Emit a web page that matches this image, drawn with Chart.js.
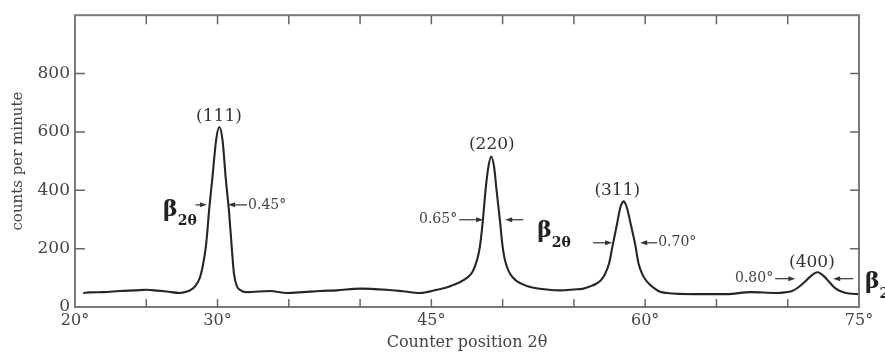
<!DOCTYPE html>
<html>
<head>
<meta charset="utf-8">
<script src="https://cdn.jsdelivr.net/npm/chart.js@4.4.1/dist/chart.umd.min.js"></script>
<style>
  html, body { margin: 0; padding: 0; background: #fff; }
  #wrap { width: 885px; height: 355px; position: relative; }
</style>
</head>
<body>
<div id="wrap"><canvas id="xrd"></canvas></div>
<script>
// Counter position 2θ (deg) and counts per minute
const twoTheta = [
  20.58, 21.0, 21.99, 23.16, 24.2, 25.03, 25.8, 26.43, 27.37, 27.8, 28.1, 28.45, 28.77, 29.0,
  29.2, 29.43, 29.63, 29.9, 30.12, 30.35, 30.58, 30.8, 30.98, 31.15, 31.35, 31.6, 32.05,
  33.68, 34.85, 36.02, 37.19, 38.36, 40.0, 41.87, 43.0, 44.2, 45.38, 46.0, 46.5, 47.0,
  47.5, 47.9, 48.2, 48.4, 48.6, 48.8, 49.0, 49.19, 49.4, 49.59, 49.82, 49.98, 50.12, 50.3,
  50.53, 50.9, 51.3, 51.8, 52.16, 53.1, 54.04, 55.0, 55.67, 56.1, 56.5, 56.9, 57.2, 57.47,
  57.73, 58.01, 58.25, 58.38, 58.48, 58.6, 58.72, 59.0, 59.3, 59.53, 59.75, 60.0, 60.3,
  60.7, 61.05, 61.5, 63.39, 65.73, 67.37, 69.24, 69.8, 70.3, 70.7, 71.1, 71.6, 72.09,
  72.55, 72.98, 73.35, 73.8, 74.3, 75.0
];
const counts = [
  48, 50, 51, 55, 57, 59, 56, 53, 48, 52, 58, 72, 102, 150,
  215, 343, 438, 572, 617, 572, 438, 330, 215, 115, 72, 58, 51,
  55, 48, 51, 55, 57, 63, 59, 54, 48, 59, 66, 75, 85,
  100, 122, 160, 205, 290, 400, 480, 516, 480, 393, 292, 215, 170, 138,
  113, 92, 80, 70, 66, 60, 57, 60, 63, 70, 78, 92, 115, 150,
  214, 281, 340, 356, 362, 356, 340, 281, 214, 150, 118, 95, 78,
  62, 52, 48, 44, 44, 51, 48, 50, 55, 66, 82, 105, 119,
  105, 82, 64, 52, 46, 44
];

// ticks every 5° / 200 counts, only some of them carry a label
const xLabelled = [20, 30, 45, 60, 75];
const yLabelled = [0, 200, 400, 600, 800];

// reflection names and where they sit (2θ, counts)
const peakNames = ['(111)', '(220)', '(311)', '(400)'];
const peakNameAt = [[30.1, 652], [49.24, 558], [58.04, 400], [71.7, 152]];

// half-width marks: text, arrow from the left [tail, tip], arrow from the right [tail, tip]
const widthTexts = ['0.45°', '0.65°', '0.70°', '0.80°'];
const widthMarks = [
  { textAt: 32.14, side: 'right', fromLeft: [28.45, 29.25], fromRight: [32.07, 30.74], y: 350 },
  { textAt: 46.81, side: 'left',  fromLeft: [46.95, 48.63], fromRight: [51.44, 50.18], y: 299 },
  { textAt: 60.91, side: 'right', fromLeft: [56.35, 57.68], fromRight: [60.84, 59.65], y: 220 },
  { textAt: 68.98, side: 'left',  fromLeft: [69.12, 70.53], fromRight: [74.6, 73.19],  y: 97 }
];
const betaAt = [[26.18, 333], [52.42, 259], [75.42, 84]];

const SERIF = '"DejaVu Serif", "Liberation Serif", serif';

function drawArrow(ctx, tail, tip, y) {
  const dir = Math.sign(tip - tail);
  ctx.beginPath();
  ctx.moveTo(tail, y);
  ctx.lineTo(tip - dir * 5, y);
  ctx.stroke();
  ctx.beginPath();
  ctx.moveTo(tip, y);
  ctx.lineTo(tip - dir * 7, y - 2.5);
  ctx.lineTo(tip - dir * 7, y + 2.5);
  ctx.closePath();
  ctx.fill();
}

const framePlugin = {
  id: 'frame',
  afterDatasetsDraw(chart) {
    const { ctx, chartArea: a, scales: { x, y } } = chart;
    ctx.save();
    // box round the plot
    ctx.strokeStyle = '#7a7a7a';
    ctx.lineWidth = 2;
    ctx.strokeRect(a.left, a.top, a.right - a.left, a.bottom - a.top);

    // inward tick marks on all four sides
    ctx.lineWidth = 1.5;
    ctx.strokeStyle = '#666';
    for (let v = 25; v < 75; v += 5) {
      const px = x.getPixelForValue(v);
      ctx.beginPath();
      ctx.moveTo(px, a.bottom); ctx.lineTo(px, a.bottom - 8);
      ctx.moveTo(px, a.top); ctx.lineTo(px, a.top + 9);
      ctx.stroke();
    }
    for (let v = 200; v < 1000; v += 200) {
      const py = y.getPixelForValue(v);
      ctx.beginPath();
      ctx.moveTo(a.left, py); ctx.lineTo(a.left + 10, py);
      ctx.moveTo(a.right, py); ctx.lineTo(a.right - 9, py);
      ctx.stroke();
    }

    // reflection names
    ctx.fillStyle = '#333';
    ctx.font = '17px ' + SERIF;
    ctx.textAlign = 'center';
    ctx.textBaseline = 'middle';
    peakNames.forEach((name, i) => {
      ctx.fillText(name, x.getPixelForValue(peakNameAt[i][0]), y.getPixelForValue(peakNameAt[i][1]));
    });

    // widths with arrows
    ctx.font = '14px ' + SERIF;
    ctx.fillStyle = '#444';
    ctx.strokeStyle = '#333';
    ctx.lineWidth = 1.2;
    widthMarks.forEach((m, i) => {
      const py = y.getPixelForValue(m.y);
      ctx.textAlign = m.side === 'right' ? 'left' : 'right';
      ctx.fillText(widthTexts[i], x.getPixelForValue(m.textAt), py);
      ctx.fillStyle = '#333';
      drawArrow(ctx, x.getPixelForValue(m.fromLeft[0]), x.getPixelForValue(m.fromLeft[1]), py);
      drawArrow(ctx, x.getPixelForValue(m.fromRight[0]), x.getPixelForValue(m.fromRight[1]), py);
      ctx.fillStyle = '#444';
    });

    // beta_2θ
    ctx.fillStyle = '#222';
    ctx.textAlign = 'left';
    betaAt.forEach(([bx, by]) => {
      const px = x.getPixelForValue(bx);
      const py = y.getPixelForValue(by);
      ctx.font = 'bold 22px ' + SERIF;
      ctx.fillText('β', px, py);
      const w = ctx.measureText('β').width;
      ctx.font = 'bold 14px ' + SERIF;
      ctx.fillText('2θ', px + w, py + 12);
    });
    ctx.restore();
  }
};

new Chart(document.getElementById('xrd'), {
  type: 'line',
  data: {
    datasets: [{
      data: twoTheta.map((t, i) => ({ x: t, y: counts[i] })),
      borderColor: '#262626',
      borderWidth: 2.1,
      pointRadius: 0,
      cubicInterpolationMode: 'monotone',
      fill: false
    }]
  },
  options: {
    responsive: true,
    maintainAspectRatio: false,
    animation: false,
    layout: { padding: { top: 11, right: 26, left: 0, bottom: 0 } },
    plugins: { legend: { display: false }, tooltip: { enabled: false } },
    scales: {
      x: {
        type: 'linear',
        min: 20,
        max: 75,
        grid: { display: false, drawTicks: false },
        border: { display: false },
        ticks: {
          stepSize: 5,
          autoSkip: false,
          maxRotation: 0,
          padding: 4,
          color: '#444',
          font: { family: SERIF, size: 16 },
          callback: v => xLabelled.includes(v) ? v + '°' : ''
        },
        title: {
          display: true,
          text: 'Counter position 2θ',
          color: '#444',
          font: { family: SERIF, size: 16 },
          padding: { top: 0, bottom: 3 }
        },
        afterFit: s => { s.height = 48; }
      },
      y: {
        min: 0,
        max: 1000,
        grid: { display: false, drawTicks: false },
        border: { display: false },
        ticks: {
          stepSize: 200,
          padding: 5,
          color: '#444',
          font: { family: SERIF, size: 17 },
          callback: v => yLabelled.includes(v) ? String(v) : ''
        },
        title: {
          display: true,
          text: 'counts per minute',
          color: '#444',
          font: { family: SERIF, size: 15 },
          padding: { top: 9, bottom: 0 }
        },
        afterFit: s => { s.width = 75; }
      }
    }
  },
  plugins: [framePlugin]
});
</script>
</body>
</html>
